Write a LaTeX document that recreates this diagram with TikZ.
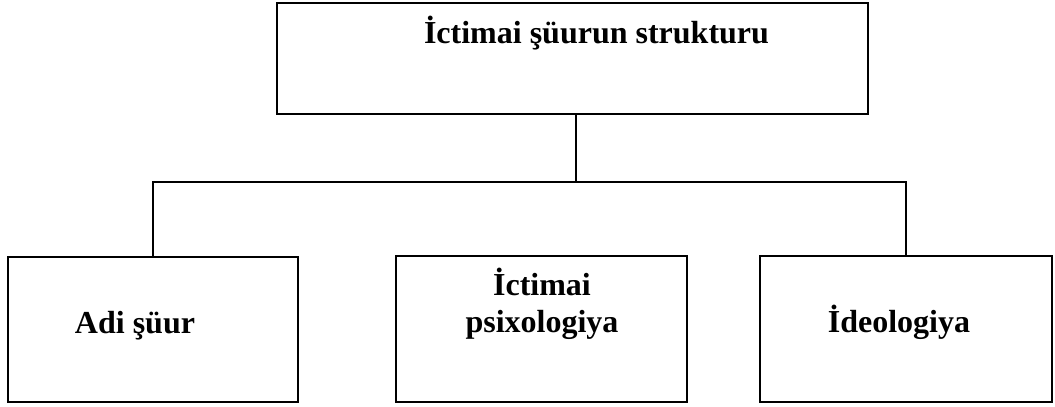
\documentclass[tikz,border=0pt]{standalone}
\usepackage{fontspec}
\setmainfont{Liberation Serif}
\begin{document}
\begin{tikzpicture}[x=1pt,y=1pt,
  box/.style={draw=black,line width=1.8pt,inner sep=0pt,fill=white},
  conn/.style={draw=black,line width=1.6pt},
  lbl/.style={font=\fontsize{32}{37}\selectfont\bfseries,anchor=base,inner sep=0pt,align=center}]
\useasboundingbox (0,0) rectangle (1055,407);
\node[box,minimum width=591pt,minimum height=111pt] (top) at (572.5,348.5) {};
\node[box,minimum width=290pt,minimum height=145pt] (left) at (153,77.5) {};
\node[box,minimum width=291pt,minimum height=146pt] (mid) at (541.5,78) {};
\node[box,minimum width=292pt,minimum height=146pt] (right) at (906,78) {};
\node[lbl] (ttop) at (596.5,363) {İctimai şüurun strukturu};
\node[lbl] (tleft) at (135,73) {Adi şüur};
\node[lbl] (tmid1) at (542,111) {İctimai};
\node[lbl] (tmid2) at (542,74) {psixologiya};
\node[lbl] (tright) at (899,74) {İdeologiya};
\coordinate (j) at (576,225);
\draw[conn] (top.south -| j) -- (j);
\draw[conn] (left.north) -- (left.north |- j) -- (right.north |- j) -- (right.north);
\end{tikzpicture}
\end{document}
